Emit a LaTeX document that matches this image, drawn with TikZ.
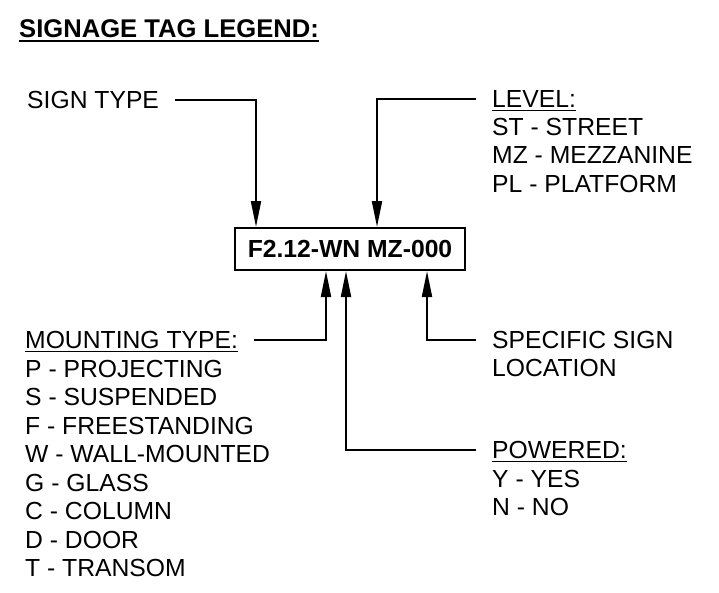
\documentclass[tikz,border=0pt]{standalone}
\usepackage{fontspec}
\setmainfont{Liberation Sans}
\usetikzlibrary{arrows.meta}
\newcommand\ulline[3]{\setbox0\hbox{#3}\rlap{\raisebox{-#1}{\rule{\wd0}{#2}}}\box0}
\tikzset{
  lbl/.style={inner sep=0pt, anchor=base west, align=left,
    font=\fontsize{24.7}{28.5}\selectfont},
  tagbox/.style={draw, line width=2pt, minimum width=230pt, minimum height=42pt,
    inner sep=0pt, font=\bfseries\fontsize{24.7}{28.5}\selectfont},
  conn/.style={line width=2pt, -{Triangle[length=26pt,width=10pt]}},
}
\begin{document}
\begin{tikzpicture}[x=1pt,y=-1pt]
\useasboundingbox (0,0) rectangle (719,592);
\node[lbl, font=\bfseries\fontsize{25.6}{28.5}\selectfont] (title) at (19,37) {\ulline{5pt}{2.4pt}{SIGNAGE TAG LEGEND:}};
\node[tagbox] (tag) at (350,249) {F2.12-WN MZ-000};
% sign type
\node[lbl] (signtype) at (27,108) {SIGN TYPE};
% level (base anchor of a multi-line node = last line)
\node[lbl] (levelhead) at (492,107) {\ulline{4pt}{1.5pt}{LEVEL:}};
\node[lbl] (levellist) at (492,192) {ST - STREET\\MZ - MEZZANINE\\PL - PLATFORM};
% mounting
\node[lbl] (mounthead) at (25,348) {\ulline{4pt}{1.5pt}{MOUNTING TYPE:}};
\node[lbl] (mountlist) at (25,576.5) {P - PROJECTING\\S - SUSPENDED\\F - FREESTANDING\\W - WALL-MOUNTED\\G - GLASS\\C - COLUMN\\D - DOOR\\T - TRANSOM};
% specific
\node[lbl] (specific) at (492,376.5) {SPECIFIC SIGN\\LOCATION};
\coordinate (specline) at (492,340);
% powered
\node[lbl] (powhead) at (492,458) {\ulline{4pt}{1.5pt}{POWERED:}};
\node[lbl] (powlist) at (492,515.5) {Y - YES\\N - NO};
% connectors
\draw[conn] ([xshift=16pt,yshift=8pt]signtype.base east) -| ([xshift=22pt]tag.north west);
\draw[conn] ([xshift=-16pt,yshift=8pt]levelhead.base west) -| ([xshift=143pt]tag.north west);
\draw[conn] ([xshift=16pt,yshift=8pt]mounthead.base east) -| ([xshift=92pt]tag.south west);
\draw[conn] ([xshift=-16pt,yshift=8pt]powhead.base west) -| ([xshift=112pt]tag.south west);
\draw[conn] ([xshift=-16pt]specific.west |- specline) -| ([xshift=193pt]tag.south west);
\end{tikzpicture}
\end{document}
